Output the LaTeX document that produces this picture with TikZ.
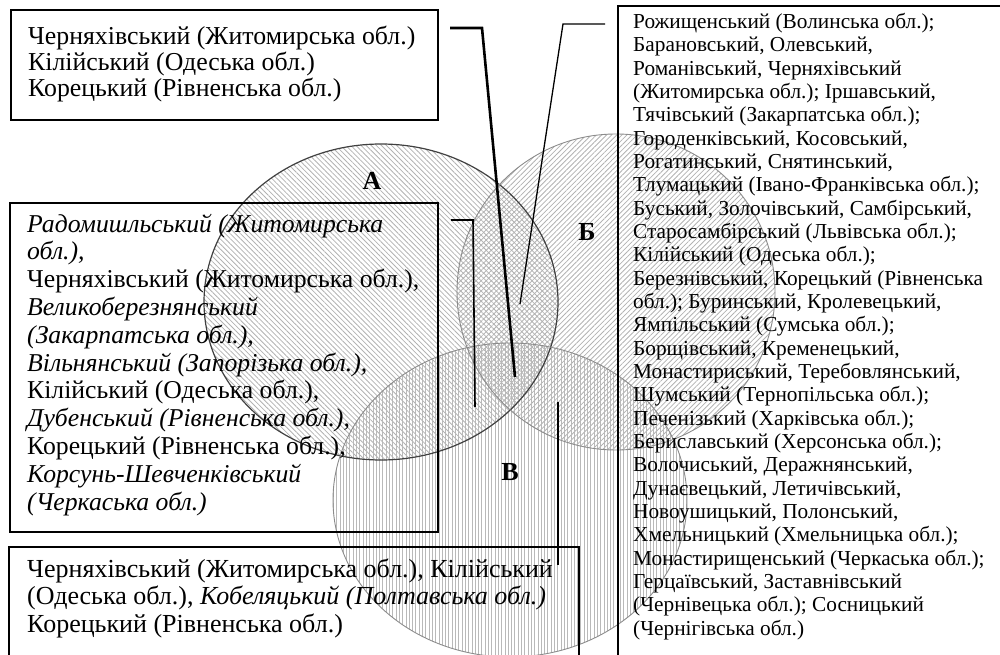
\documentclass[tikz,border=0pt]{standalone}
\usepackage{fontspec}
\setmainfont{Liberation Serif}
\usetikzlibrary{patterns.meta}
\newcommand\fbig{\fontsize{25.8pt}{26pt}\selectfont}
\newcommand\falist{\fontsize{25.7pt}{27.8pt}\selectfont}
\newcommand\fbot{\fontsize{26pt}{27.5pt}\selectfont}
\newcommand\fright{\fontsize{21.3pt}{23.33pt}\selectfont}
\begin{document}
\begin{tikzpicture}[x=1pt,y=-1pt]
\tikzset{
  hatchA/.style={pattern={Lines[angle=-45,distance=3.6pt,line width=0.8pt]}, pattern color=gray!60},
  hatchB/.style={pattern={Lines[angle=45,distance=3.6pt,line width=0.8pt]}, pattern color=gray!60},
  hatchV/.style={pattern={Lines[angle=90,distance=3.3pt,line width=0.8pt]}, pattern color=gray!55},
  txt/.style={inner sep=0pt, align=left, anchor=base west},
  boxline/.style={line width=1.2pt},
  lbl/.style={font=\bfseries\fontsize{26pt}{26pt}\selectfont, inner sep=0pt},
  conn/.style={line width=1.3pt},
}
\useasboundingbox (0,0) rectangle (1000,655);
% sets
\coordinate (cA) at (381,302);
\coordinate (cB) at (616,292);
\coordinate (cV) at (510,500);
\path[hatchA] (cA) ellipse [x radius=177pt, y radius=158pt];
\path[hatchB] (cB) ellipse [x radius=159pt, y radius=158pt];
\path[hatchV] (cV) ellipse [x radius=177pt, y radius=157pt];
\draw[line width=1.2pt, black!75] (cA) ellipse [x radius=177pt, y radius=158pt];
\draw[line width=0.9pt, black!45] (cB) ellipse [x radius=159pt, y radius=158pt];
\draw[line width=0.9pt, black!45] (cV) ellipse [x radius=177pt, y radius=157pt];
\node[lbl] (lA) at (372,181) {А};
\node[lbl] (lB) at (587,232) {Б};
\node[lbl] (lV) at (510,472) {В};
% top box (base anchor = last line)
\draw[line width=2.2pt] (11,10) rectangle (438,120);
\node[txt, font=\fbig] (tTop) at (28,97) {Черняхівський (Житомирська обл.)\\Кілійський (Одеська обл.)\\Корецький (Рівненська обл.)};
% A list box
\draw[boxline] (10,203) rectangle (438,532);
\node[txt, font=\falist] (tA) at (27,510) {\textit{Радомишльський (Житомирська}\\\textit{обл.),}\\Черняхівський (Житомирська обл.),\\\textit{Великоберезнянський}\\\textit{(Закарпатська обл.),}\\\textit{Вільнянський (Запорізька обл.),}\\Кілійський (Одеська обл.),\\\textit{Дубенський (Рівненська обл.),}\\Корецький (Рівненська обл.),\\\textit{Корсунь-Шевченківський}\\\textit{(Черкаська обл.)}};
% bottom box
\draw[boxline] (9,662) -- (9,547) -- (579,547) -- (579,662);
\node[txt, font=\fbot] (tV) at (27,632) {Черняхівський (Житомирська обл.), Кілійський\\(Одеська обл.), \textit{Кобеляцький (Полтавська обл.)}\\Корецький (Рівненська обл.)};
% right box
\draw[boxline] (618,662) -- (618,6) -- (1005,6);
\node[txt, font=\fright] (tB) at (633,635) {Рожищенський (Волинська обл.);\\Барановський, Олевський,\\Романівський, Черняхівський\\(Житомирська обл.); Іршавський,\\Тячівський (Закарпатська обл.);\\Городенківський, Косовський,\\Рогатинський, Снятинський,\\Тлумацький (Івано-Франківська обл.);\\Буський, Золочівський, Самбірський,\\Старосамбірський (Львівська обл.);\\Кілійський (Одеська обл.);\\Березнівський, Корецький (Рівненська\\обл.); Буринський, Кролевецький,\\Ямпільський (Сумська обл.);\\Борщівський, Кременецький,\\Монастириський, Теребовлянський,\\Шумський (Тернопільська обл.);\\Печенізький (Харківська обл.);\\Бериславський (Херсонська обл.);\\Волочиський, Деражнянський,\\Дунаєвецький, Летичівський,\\Новоушицький, Полонський,\\Хмельницький (Хмельницька обл.);\\Монастирищенський (Черкаська обл.);\\Герцаївський, Заставнівський\\(Чернівецька обл.); Сосницький\\(Чернігівська обл.)};
% connectors
\coordinate (k1a) at (450,28); \coordinate (k1b) at (482,28); \coordinate (k1c) at (515,377);
\coordinate (k2a) at (605,24); \coordinate (k2b) at (563,24); \coordinate (k2c) at (520,304);
\coordinate (k3a) at (451,220); \coordinate (k3b) at (473,220); \coordinate (k3c) at (475,407);
\coordinate (k4a) at (558,402); \coordinate (k4b) at (558,565);
\draw[line width=2.6pt] (k1a) -- (k1b) -- (k1c);
\draw[conn] (k2a) -- (k2b) -- (k2c);
\draw[line width=1.6pt] (k3a) -- (k3b) -- (k3c);
\draw[conn] (k4a) -- (k4b);
\end{tikzpicture}
\end{document}
